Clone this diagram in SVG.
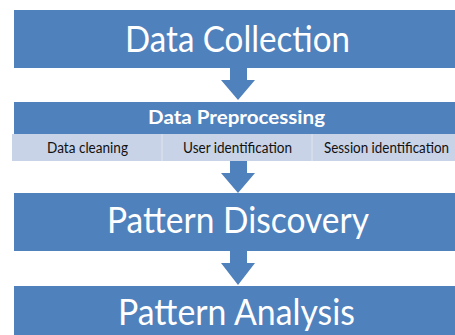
<svg xmlns="http://www.w3.org/2000/svg" width="455" height="335" viewBox="0 0 455 335">
<style>
.box{fill:#4f81bd}
.sub{fill:#c9d3e7}
.arr{fill:#4f81bd}
.big{font-family:Lato,"Open Sans","Liberation Sans",sans-serif;fill:#ffffff;text-anchor:middle}
.hdr{font-family:Lato,"Open Sans","Liberation Sans",sans-serif;font-weight:bold;fill:#ffffff;text-anchor:middle}
.sml{font-family:Lato,"Open Sans","Liberation Sans",sans-serif;fill:#111111;text-anchor:middle}
.div{stroke:#dde3ef;stroke-width:1.2}
</style>
<rect width="455" height="335" fill="#ffffff"/>
<g id="connectors">
<polygon class="arr" points="230,68 247,68 247,80 255,80 238,100 221,80 230,80"/>
<polygon class="arr" points="230,161 247,161 247,173 255,173 238,193 221,173 230,173"/>
<polygon class="arr" points="230,251 247,251 247,263 255,263 238,285 221,263 230,263"/>
</g>
<g id="data-collection">
<rect class="box" x="14" y="10" width="441" height="58"/>
<text class="big" x="237.5" y="52" font-size="37" textLength="225" lengthAdjust="spacingAndGlyphs">Data Collection</text>
</g>
<g id="data-preprocessing">
<rect class="box" x="14" y="102" width="441" height="32"/>
<text class="hdr" x="236.5" y="124" font-size="19" textLength="177" lengthAdjust="spacingAndGlyphs">Data Preprocessing</text>
<rect class="sub" x="12" y="134" width="443" height="27"/>
<line class="div" x1="162" y1="134" x2="162" y2="161"/>
<line class="div" x1="312" y1="134" x2="312" y2="161"/>
<text class="sml" x="87.5" y="153" font-size="14.5" textLength="81" lengthAdjust="spacingAndGlyphs">Data cleaning</text>
<text class="sml" x="237.5" y="153" font-size="14.5" textLength="109" lengthAdjust="spacingAndGlyphs">User identification</text>
<text class="sml" x="386.5" y="153" font-size="14.5" textLength="125" lengthAdjust="spacingAndGlyphs">Session identification</text>
</g>
<g id="pattern-discovery">
<rect class="box" x="14" y="193" width="441" height="58"/>
<text class="big" x="238" y="233" font-size="36" textLength="262" lengthAdjust="spacingAndGlyphs">Pattern Discovery</text>
</g>
<g id="pattern-analysis">
<rect class="box" x="14" y="286" width="441" height="49"/>
<text class="big" x="236.5" y="325" font-size="36" textLength="237" lengthAdjust="spacingAndGlyphs">Pattern Analysis</text>
</g>
</svg>
